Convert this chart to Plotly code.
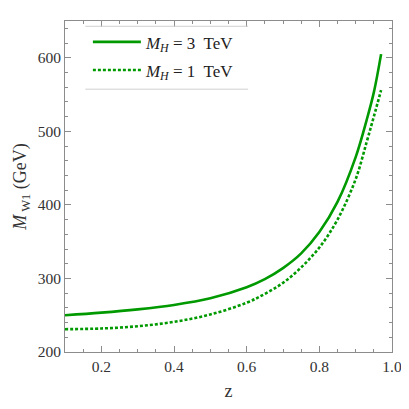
import plotly.graph_objects as go

# values
z = [0.10, 0.20, 0.30, 0.40, 0.50, 0.60, 0.65, 0.70, 0.75, 0.80, 0.85, 0.90, 0.93, 0.95, 0.97]
mw_3tev = [250, 253.5, 258, 264, 273, 288, 299, 314, 334, 363, 404, 465, 515, 553, 605]
mw_1tev = [231, 232, 235, 241, 251, 267, 279, 294, 315, 342, 380, 435, 485, 520, 556]

green = "#009a00"
serif = "Liberation Serif, DejaVu Serif, serif"

fig = go.Figure()
fig.add_scatter(x=z, y=mw_3tev, mode="lines", line_shape="spline",
                line=dict(color=green, width=2.6), legendgroup="a",
                name="<i>M</i><sub><i>H</i></sub> = 3  TeV")
fig.add_scatter(x=z, y=mw_1tev, mode="lines", line_shape="spline",
                line=dict(color=green, width=2.6, dash="3px,2px"), legendgroup="b",
                name="<i>M</i><sub><i>H</i></sub> = 1  TeV")

axis_style = dict(
    showline=True, linecolor="#8c8c8c", linewidth=1, mirror="allticks",
    ticks="inside", ticklen=6, tickcolor="#8c8c8c", showgrid=False, zeroline=False,
    automargin=False,
    tickfont=dict(family=serif, size=15.5, color="#333"),
)

fig.update_xaxes(range=[0.1, 1.0], dtick=0.2, tick0=0, tickformat=".1f",
                 minor=dict(dtick=0.05, ticks="inside", ticklen=3, tickcolor="#8c8c8c"),
                 title=dict(text="z", font=dict(family=serif, size=18, color="#333"), standoff=12),
                 **axis_style)
fig.update_yaxes(range=[200, 650], dtick=100,
                 minor=dict(dtick=20, ticks="inside", ticklen=3, tickcolor="#8c8c8c"),
                 title=dict(text="<i>M</i><sub> W1</sub> (GeV)",
                            font=dict(family=serif, size=18, color="#333"), standoff=6),
                 **axis_style)

# thin rules above and below the legend
for yy in (0.984, 0.794):
    fig.add_shape(type="line", xref="paper", yref="paper", x0=0.062, x1=0.56,
                  y0=yy, y1=yy, line=dict(color="#d0d0d0", width=1))

# page body keeps an 8px margin, so the figure is drawn smaller to fit the window
fig.update_layout(
    width=401, height=393,
    margin=dict(l=57, r=17, t=13, b=49),
    plot_bgcolor="white", paper_bgcolor="white",
    legend=dict(x=0.07, y=0.99, xanchor="left", yanchor="top",
                bgcolor="rgba(0,0,0,0)", itemwidth=48, tracegroupgap=3,
                font=dict(family=serif, size=17, color="#222")),
)

fig.write_html("out.html")
